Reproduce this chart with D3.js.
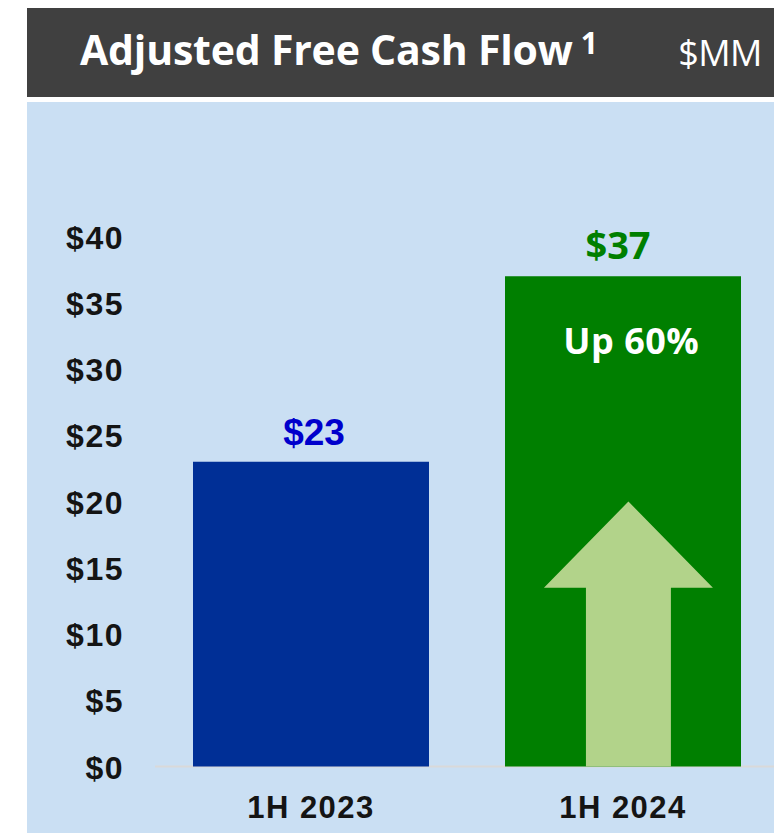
<!DOCTYPE html>
<html>
<head>
<meta charset="utf-8">
<script src="https://cdn.jsdelivr.net/npm/d3@7"></script>
<style>
  body { margin: 0; background: #fff; }
  svg { display: block; }
</style>
</head>
<body>
<svg id="canvas" width="774" height="833"></svg>
<script>
// data
const periods = ['1H 2023', '1H 2024']
const values = [23, 37]
const valueLabels = ['$23', '$37']
const growthLabel = 'Up 60%'
const yTicks = [0, 5, 10, 15, 20, 25, 30, 35, 40]
const barColors = ['#002f96', '#007f00']
const labelColors = ['#0000cc', '#007f00']
// arrow in the 2024 bar (values in $MM, x as share of band)
const arrowTip = 20
const arrowHeadBase = 13.5
const arrowHead = [0.165, 0.881]
const arrowShaft = [0.343, 0.703]

let canvas = d3.select('#canvas')

// header
canvas.append('rect')
  .attr('x', 27).attr('y', 8)
  .attr('width', 747).attr('height', 89)
  .attr('fill', '#404040')

let title = canvas.append('text')
  .attr('x', 80).attr('y', 65)
  .attr('fill', '#fff')
  .style('font-family', '"Open Sans", Lato, sans-serif')
  .style('font-weight', 700)
  .style('font-size', '41px')
  .style('letter-spacing', '-0.2px')
title.append('tspan').text('Adjusted Free Cash Flow')
title.append('tspan')
  .attr('dy', -11).attr('dx', 8)
  .style('font-size', '30px')
  .text('1')

canvas.append('text')
  .attr('x', 762).attr('y', 66)
  .attr('text-anchor', 'end')
  .attr('fill', '#fff')
  .style('font-family', '"Open Sans", Lato, sans-serif')
  .style('font-size', '36px')
  .style('letter-spacing', '-0.5px')
  .text('$MM')

// panel
canvas.append('rect')
  .attr('x', 27).attr('y', 102)
  .attr('width', 747).attr('height', 731)
  .attr('fill', '#cadff3')

let x = d3.scaleBand()
  .domain(periods)
  .range([155, 779])
  .paddingInner(0.2436)
  .paddingOuter(0.1218)

let y = d3.scaleLinear()
  .domain([0, 40])
  .range([766.5, 236.5])

// y axis
let yAxis = canvas.append('g')
  .attr('transform', 'translate(124,0)')
  .call(d3.axisLeft(y).tickValues(yTicks).tickSize(0).tickPadding(0).tickFormat(d => '$' + d))
yAxis.select('.domain').remove()
yAxis.selectAll('text')
  .attr('fill', '#141414')
  .attr('dy', '0.36em')
  .style('font-family', '"Liberation Sans", Arial, sans-serif')
  .style('font-weight', 700)
  .style('font-size', '32px')
  .style('letter-spacing', '1.5px')

// baseline
canvas.append('line')
  .attr('x1', 155).attr('x2', 774)
  .attr('y1', y(0)).attr('y2', y(0))
  .attr('stroke', '#d9d9d9')
  .attr('stroke-width', 2)

// bars
canvas.selectAll('rect.bar')
  .data(values)
  .enter()
  .append('rect')
  .attr('class', 'bar')
  .attr('x', (d, i) => x(periods[i]))
  .attr('y', d => y(d))
  .attr('width', x.bandwidth())
  .attr('height', d => y(0) - y(d))
  .attr('fill', (d, i) => barColors[i])

// arrow
let bx = x(periods[1])
let bw = x.bandwidth()
let arrowPts = [
  [bx + bw * (arrowHead[0] + arrowHead[1]) / 2, y(arrowTip)],
  [bx + bw * arrowHead[1], y(arrowHeadBase)],
  [bx + bw * arrowShaft[1], y(arrowHeadBase)],
  [bx + bw * arrowShaft[1], y(0)],
  [bx + bw * arrowShaft[0], y(0)],
  [bx + bw * arrowShaft[0], y(arrowHeadBase)],
  [bx + bw * arrowHead[0], y(arrowHeadBase)]
]
canvas.append('polygon')
  .attr('points', arrowPts.map(p => p.join(',')).join(' '))
  .attr('fill', '#b2d38a')

// value labels
canvas.selectAll('text.val')
  .data(values)
  .enter()
  .append('text')
  .attr('class', 'val')
  .attr('x', (d, i) => x(periods[i]) + x.bandwidth() / 2 + (i === 0 ? 3 : -5))
  .attr('y', d => y(d) - 17)
  .attr('text-anchor', 'middle')
  .attr('fill', (d, i) => labelColors[i])
  .style('font-family', (d, i) => i === 0 ? '"Liberation Sans", Arial, sans-serif' : '"Open Sans", sans-serif')
  .style('font-weight', 700)
  .style('font-size', (d, i) => i === 0 ? '37px' : '38px')
  .text((d, i) => valueLabels[i])

// growth note
canvas.append('text')
  .attr('x', bx + bw * 0.535)
  .attr('y', 354)
  .attr('text-anchor', 'middle')
  .attr('fill', '#fff')
  .style('font-family', '"Open Sans", sans-serif')
  .style('font-weight', 700)
  .style('font-size', '36px')
  .style('letter-spacing', '0.5px')
  .text(growthLabel)

// x labels
canvas.selectAll('text.cat')
  .data(periods)
  .enter()
  .append('text')
  .attr('class', 'cat')
  .attr('x', d => x(d) + x.bandwidth() / 2)
  .attr('y', 818)
  .attr('text-anchor', 'middle')
  .attr('fill', '#141414')
  .style('font-family', '"Liberation Sans", Arial, sans-serif')
  .style('font-weight', 700)
  .style('font-size', '31px')
  .style('letter-spacing', '1.5px')
  .text(d => d)
</script>
</body>
</html>
